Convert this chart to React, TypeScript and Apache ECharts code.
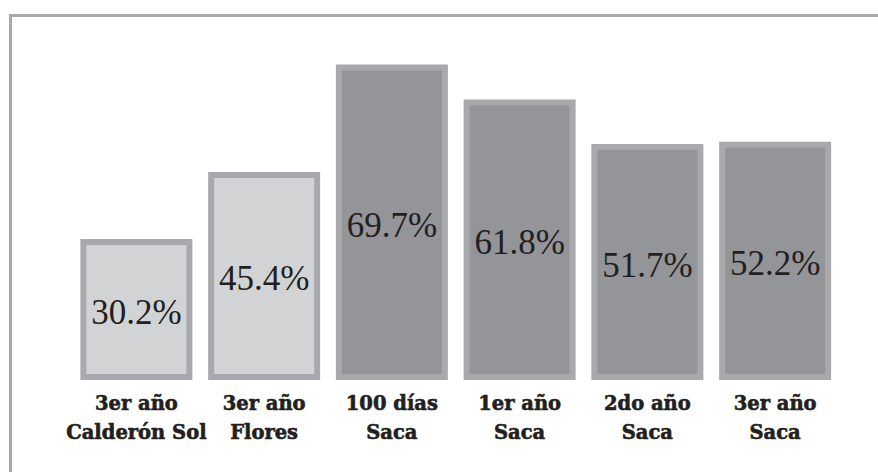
import React, { useEffect, useRef } from "react";
import * as echarts from "echarts";

const categories = [
  "3er año\nCalderón Sol",
  "3er año\nFlores",
  "100 días\nSaca",
  "1er año\nSaca",
  "2do año\nSaca",
  "3er año\nSaca",
];
const values = [30.2, 45.4, 69.7, 61.8, 51.7, 52.2];
const groups = ["light", "light", "dark", "dark", "dark", "dark"];

const FILL: Record<string, string> = { light: "#d1d3d4", dark: "#939598" };
const BORDER = "#a7a9ac";
const TEXT = "#231f20";

export default function App() {
  const ref = useRef<HTMLDivElement>(null);
  useEffect(() => {
    if (!ref.current) return;
    const chart = echarts.init(ref.current, null, { renderer: "svg" });
    chart.setOption({
      animation: false,
      backgroundColor: "#ffffff",
      grid: { left: 72.5, right: 39, top: 19, bottom: 92 },
      xAxis: {
        type: "category",
        data: categories,
        axisLine: { show: false },
        axisTick: { show: false },
        axisLabel: {
          interval: 0,
          margin: 9,
          fontFamily: "DejaVu Serif",
          fontWeight: "bold",
          fontSize: 19.5,
          lineHeight: 29,
          color: TEXT,
          textBorderColor: TEXT,
          textBorderWidth: 0.6,
        },
      },
      yAxis: {
        type: "value",
        min: -1.7,
        max: 80,
        startValue: -1.7,
        show: false,
        splitLine: { show: false },
      },
      graphic: [
        { type: "rect", shape: { x: 9, y: 14, width: 869, height: 3 }, style: { fill: BORDER } },
        { type: "rect", shape: { x: 9, y: 14, width: 3, height: 458 }, style: { fill: BORDER } },
      ],
      series: [
        {
          type: "bar",
          barWidth: 112,
          data: values.map((v, i) => ({
            value: v,
            itemStyle: { color: FILL[groups[i]], borderColor: BORDER, borderWidth: 6 },
          })),
          label: {
            show: true,
            position: "inside",
            offset: [0, 3],
            formatter: (p: any) => p.value.toFixed(1) + "%",
            fontFamily: "Liberation Serif",
            fontSize: 35,
            color: TEXT,
          },
        },
      ],
    });
    return () => chart.dispose();
  }, []);
  return (
    <div
      ref={ref}
      style={{ position: "absolute", left: 0, top: 0, width: 878, height: 472 }}
    />
  );
}
